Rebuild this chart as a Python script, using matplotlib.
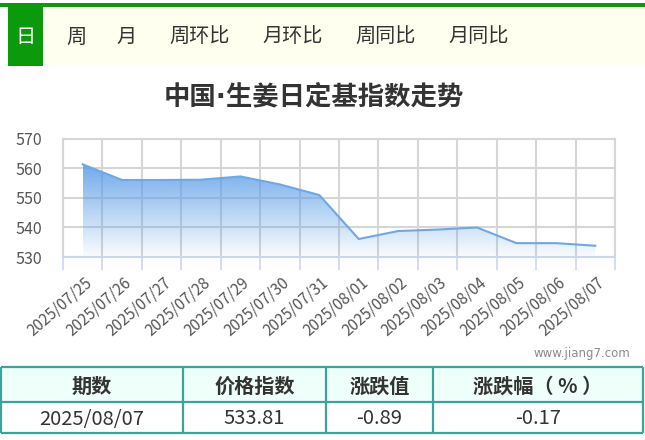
import matplotlib
matplotlib.use("Agg")
import matplotlib.pyplot as plt
import numpy as np
from matplotlib.patches import Rectangle
from matplotlib.transforms import ScaledTranslation

plt.rcParams['font.family'] = ['Noto Sans CJK SC', 'DejaVu Sans']

# Daily ginger fixed-base index
dates = ["2025/07/25", "2025/07/26", "2025/07/27", "2025/07/28", "2025/07/29",
         "2025/07/30", "2025/07/31", "2025/08/01", "2025/08/02", "2025/08/03",
         "2025/08/04", "2025/08/05", "2025/08/06", "2025/08/07"]
values = [561.4, 556.1, 556.1, 556.2, 557.3, 554.6, 551.0,
          536.1, 538.8, 539.3, 540.0, 534.7, 534.70, 533.81]
y_ticks = [530, 540, 550, 560, 570]

tabs = ["日", "周", "月", "周环比", "月环比", "周同比", "月同比"]
tab_x = [25, 76, 127, 200, 293, 386, 479]

table_header = ["期数", "价格指数", "涨跌值", "涨跌幅（ % ）"]
table_row = ["2025/08/07", "533.81", "-0.89", "-0.17"]
col_edges = [1, 183, 326, 433, 643]

W, H = 645, 440
fig = plt.figure(figsize=(W / 100, H / 100), dpi=100)

# overlay in pixel coords for the nav bar and the table
ov = fig.add_axes([0, 0, 1, 1])
ov.set_xlim(0, W)
ov.set_ylim(H, 0)
ov.axis('off')

green = '#0c9a0c'
ov.add_patch(Rectangle((0, 3), W, 4, color=green, lw=0))
ov.add_patch(Rectangle((7, 7), W - 7, 59, color='#fffff0', lw=0))
ov.add_patch(Rectangle((8, 7), 35, 59, color=green, lw=0))
for i, (t, x) in enumerate(zip(tabs, tab_x)):
    ov.text(x, 37, t, ha='center', va='center', fontsize=14.5,
            color='white' if i == 0 else '#333333')

ov.text(314, 97, "中国·生姜日定基指数走势", ha='center', va='center',
        fontsize=19, fontweight='bold', color='#333333',
        family=['DejaVu Sans', 'Noto Sans CJK SC'])

ov.text(630, 354, "www.jiang7.com", ha='right', va='center', fontsize=8.5,
        color='#8a8a8a', family=['DejaVu Sans'])

# table
border = '#3aa39a'
ov.add_patch(Rectangle((1, 367), 642, 35, facecolor='#effffa', lw=0))
for y in [367, 402, 433]:
    ov.plot([1, 643], [y, y], color=border, lw=1.6, solid_capstyle='butt')
for x in col_edges:
    ov.plot([x, x], [367, 433], color=border, lw=1.6, solid_capstyle='butt')
for i in range(4):
    cx = (col_edges[i] + col_edges[i + 1]) / 2
    ov.text(cx, 386, table_header[i], ha='center', va='center', fontsize=14.5,
            fontweight='bold', color='#333333')
    ov.text(cx, 419, table_row[i], ha='center', va='center', fontsize=14.5,
            color='#333333')

# chart
ax = fig.add_axes([63 / W, 1 - 257 / H, (615 - 63) / W, (257 - 139) / H])
ax.set_zorder(2)
x = np.arange(len(values)) + 0.5
ax.set_xlim(0, len(values))
ax.set_ylim(530, 570)

line_c = '#6ea8e6'
poly = ax.fill_between(x, values, 530, color='none', lw=0)
grad = np.zeros((100, 1, 4))
grad[:, 0, 0] = 88 / 255
grad[:, 0, 1] = 155 / 255
grad[:, 0, 2] = 230 / 255
grad[:, 0, 3] = np.linspace(0.85, 0.03, 100)
img = ax.imshow(grad, extent=[x[0], x[-1], 530, max(values)], aspect='auto',
                origin='upper', zorder=1)
img.set_clip_path(poly.get_paths()[0], transform=ax.transData)
ax.plot(x, values, color=line_c, lw=1.5, zorder=3)

ax.set_yticks(y_ticks)
ax.set_xticks(x)
ax.set_xticklabels(dates)
ax.set_xticks(np.arange(len(values) + 1), minor=True)
ax.grid(True, which='major', axis='y', color='#d6d6d6', lw=1.5, zorder=0)
ax.grid(True, which='minor', axis='x', color='#d6d6d6', lw=1.5, zorder=0)
ax.set_axisbelow(True)
ax.tick_params(axis='x', which='major', length=0, pad=17, labelsize=11,
               labelcolor='#555555')
ax.tick_params(axis='x', which='minor', length=9.5, width=1.2, color='#c9d7ea',
               direction='out')
ax.tick_params(axis='y', length=0, pad=15, labelsize=11.5, labelcolor='#555555')
for lbl in ax.get_xticklabels():
    lbl.set_rotation(41)
    lbl.set_ha('right')
    lbl.set_va('center')
    lbl.set_rotation_mode('anchor')
    lbl.set_transform(lbl.get_transform() + ScaledTranslation(5 / 72, 0, fig.dpi_scale_trans))
for s in ['top', 'left', 'right']:
    ax.spines[s].set_color('#d6d6d6')
    ax.spines[s].set_linewidth(1.5)
ax.spines['bottom'].set_color('#c9d7ea')
ax.spines['bottom'].set_linewidth(1.5)
ax.patch.set_alpha(0)

fig.savefig("out.png", dpi=100)
